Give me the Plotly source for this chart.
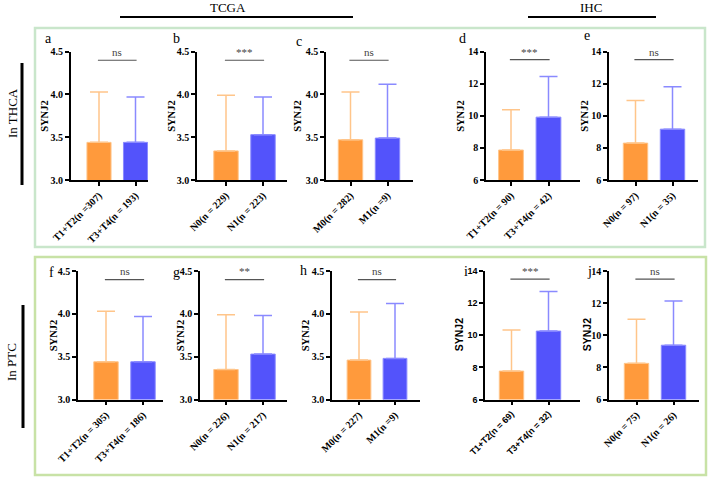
import plotly.graph_objects as go

W, H = 709, 477

# ---------------- data ----------------
panel_ids = ["a", "b", "c", "d", "e", "f", "g", "h", "i", "j"]
cats_a = ["T1+T2(n =307)", "T3+T4(n = 193)"]
cats_b = ["N0(n = 229)", "N1(n = 223)"]
cats_c = ["M0(n = 282)", "M1(n =9)"]
cats_d = ["T1+T2(n = 90)", "T3+T4(n = 42)"]
cats_e = ["N0(n = 97)", "N1(n = 35)"]
cats_f = ["T1+T2(n = 305)", "T3+T4(n = 186)"]
cats_g = ["N0(n = 226)", "N1(n = 217)"]
cats_h = ["M0(n = 227)", "M1(n =9)"]
cats_i = ["T1+T2(n = 69)", "T3+T4(n = 32)"]
cats_j = ["N0(n = 75)", "N1(n = 26)"]

mean_a = [3.44, 3.44]; upper_a = [4.03, 3.97]
mean_b = [3.34, 3.53]; upper_b = [3.99, 3.97]
mean_c = [3.47, 3.49]; upper_c = [4.03, 4.12]
mean_d = [7.87, 9.92]; upper_d = [10.38, 12.45]
mean_e = [8.30, 9.17]; upper_e = [10.95, 11.82]
mean_f = [3.44, 3.44]; upper_f = [4.03, 3.97]
mean_g = [3.35, 3.53]; upper_g = [3.99, 3.98]
mean_h = [3.46, 3.48]; upper_h = [4.02, 4.12]
mean_i = [7.77, 10.26]; upper_i = [10.32, 12.73]
mean_j = [8.25, 9.38]; upper_j = [11.0, 12.14]

sig_labels = ["ns", "***", "ns", "***", "ns", "ns", "**", "ns", "***", "ns"]
y_title = "SYNJ2"
tick_a = [3.0, 3.5, 4.0, 4.5]
tick_d = [6, 8, 10, 12, 14]

cats = [cats_a, cats_b, cats_c, cats_d, cats_e, cats_f, cats_g, cats_h, cats_i, cats_j]
means = [mean_a, mean_b, mean_c, mean_d, mean_e, mean_f, mean_g, mean_h, mean_i, mean_j]
uppers = [upper_a, upper_b, upper_c, upper_d, upper_e, upper_f, upper_g, upper_h, upper_i, upper_j]

# ---------------- layout geometry (pixels) ----------------
# left axis px, centre cat0, centre cat1, right end px
geom = [
    (70.7, 99, 135.5, 148), (197, 226, 263, 287), (326, 350.5, 387.5, 413),
    (486, 511, 548.5, 580), (609, 635.5, 672.5, 698),
    (78, 106, 143, 163), (200, 226, 263, 287), (332, 359, 395, 420),
    (485, 511.5, 548.5, 580), (609, 636.5, 673.5, 699),
]
letter_pos = [(48, 38), (176, 38), (299, 41), (462, 38), (587, 36),
              (51, 272), (176, 272), (303, 270), (466, 271), (589, 271)]
ytitle_x = [45, 172, 298, 461, 585, 53, 180, 305, 459, 587]
row_y = {0: (51.7, 180), 1: (271, 399.5)}

SERIF = "Liberation Serif, Times New Roman, serif"
SANS = "Liberation Sans, Arial, sans-serif"
ORANGE = "#FF9A3C"
ORANGE_L = "#FFC58A"
BLUE = "#5353FB"
BLUE_L = "#8A8AFF"


def px(x):
    return x / W


def py(y):
    return 1 - y / H


fig = go.Figure()
annotations = []
shapes = []
layout = {}

for k in range(10):
    ax = "" if k == 0 else str(k + 1)
    L, c0, c1, R = geom[k]
    unit = c1 - c0
    row = 0 if k < 5 else 1
    ytop, ybot = row_y[row]
    big = k in (3, 4, 8, 9)
    sans_ticks = (k == 8)
    sans_title = k in (8, 9)
    tfont = SANS if sans_ticks else SERIF
    fsz = 9 if sans_ticks else 10

    colors = [ORANGE, BLUE]
    ecolors = [ORANGE_L, BLUE_L]
    for j in range(2):
        fig.add_trace(go.Bar(
            x=[cats[k][j]], y=[means[k][j]], width=0.66,
            marker=dict(color=colors[j], line=dict(color=ecolors[j], width=1)),
            error_y=dict(type="data", symmetric=False,
                         array=[uppers[k][j] - means[k][j]], arrayminus=[0],
                         color=ecolors[j], thickness=1.5, width=9),
            xaxis="x" + ax, yaxis="y" + ax, showlegend=False,
        ))

    layout["xaxis" + ax] = dict(
        domain=[px(L), px(R)], anchor="y" + ax, type="category",
        range=[(L - c0) / unit, 1 + (R - c1) / unit], automargin=False,
        showline=True, linecolor="black", linewidth=1.5,
        ticks="outside", ticklen=4, tickwidth=1.5, tickcolor="black",
        tickangle=-45, showgrid=False, zeroline=False,
        tickfont=dict(family=tfont, size=fsz, color="black", weight="bold"),
    )
    layout["yaxis" + ax] = dict(
        domain=[py(ybot), py(ytop)], anchor="x" + ax, automargin=False,
        range=[6, 14] if big else [3.0, 4.5],
        tickvals=tick_d if big else tick_a,
        tickformat="d" if big else ".1f",
        showline=True, linecolor="black", linewidth=1.5,
        ticks="outside", ticklen=4, tickwidth=1.5, tickcolor="black",
        showgrid=False, zeroline=False,
        tickfont=dict(family=tfont, size=fsz, color="black", weight="bold"),
    )

    # significance line and label
    top = 14 if big else 4.5
    lvl = 13.5 if big else 4.4
    shapes.append(dict(type="line", xref="x" + ax, yref="y" + ax,
                       x0=-0.03, x1=1.03, y0=lvl, y1=lvl,
                       line=dict(color="#555555", width=1.2)))
    annotations.append(dict(xref="x" + ax, yref="y" + ax, x=0.5, y=top,
                            text=sig_labels[k], showarrow=False,
                            xanchor="center", yanchor="middle",
                            font=dict(family=SERIF, size=11, color="#444444")))
    # panel letter
    lx, ly = letter_pos[k]
    annotations.append(dict(xref="paper", yref="paper", x=px(lx), y=py(ly),
                            text=panel_ids[k], showarrow=False,
                            xanchor="center", yanchor="middle",
                            font=dict(family=SERIF, size=14, color="black")))
    # y title
    yc = (ytop + ybot) / 2
    annotations.append(dict(xref="paper", yref="paper", x=px(ytitle_x[k]), y=py(yc),
                            text=y_title, textangle=-90, showarrow=False,
                            xanchor="center", yanchor="middle",
                            font=dict(family=SANS if sans_title else SERIF,
                                      size=10.5, color="black", weight="bold")))

# frames
shapes.append(dict(type="rect", xref="paper", yref="paper",
                   x0=px(35), x1=px(705), y0=py(247), y1=py(28),
                   line=dict(color="#C9E6CB", width=2.5)))
shapes.append(dict(type="rect", xref="paper", yref="paper",
                   x0=px(35), x1=px(706), y0=py(475), y1=py(257),
                   line=dict(color="#C8E2A6", width=2.5)))
# header lines
shapes.append(dict(type="line", xref="paper", yref="paper",
                   x0=px(120), x1=px(353), y0=py(17), y1=py(17),
                   line=dict(color="black", width=2)))
shapes.append(dict(type="line", xref="paper", yref="paper",
                   x0=px(528), x1=px(656), y0=py(17), y1=py(17),
                   line=dict(color="black", width=2)))
# side lines
shapes.append(dict(type="line", xref="paper", yref="paper",
                   x0=px(22), x1=px(22), y0=py(63), y1=py(185),
                   line=dict(color="black", width=3)))
shapes.append(dict(type="line", xref="paper", yref="paper",
                   x0=px(23), x1=px(23), y0=py(305), y1=py(428),
                   line=dict(color="black", width=3)))

for txt, x, y, ang in [("TCGA", 228, 7, 0), ("IHC", 591, 8, 0),
                       ("In THCA", 12, 113, -90), ("In PTC", 11, 362, -90)]:
    annotations.append(dict(xref="paper", yref="paper", x=px(x), y=py(y), text=txt,
                            textangle=ang, showarrow=False,
                            xanchor="center", yanchor="middle",
                            font=dict(family=SERIF, size=13, color="black")))

fig.update_layout(
    width=W, height=H, margin=dict(l=0, r=0, t=0, b=0, pad=0, autoexpand=False),
    paper_bgcolor="white", plot_bgcolor="white",
    annotations=annotations, shapes=shapes, bargap=0.3,
    **layout,
)
fig.write_html("out.html", config={"displayModeBar": False},
               post_script="document.body.style.margin='0';document.body.style.overflow='hidden';")
